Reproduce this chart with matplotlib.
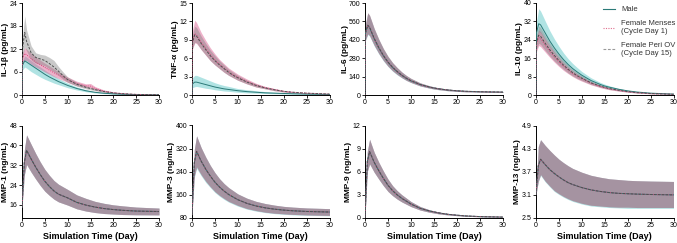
import matplotlib
matplotlib.use("Agg")
import matplotlib.pyplot as plt
from matplotlib.lines import Line2D

plt.rcParams['font.family'] = ['Liberation Sans', 'DejaVu Sans']

# ---------------- time grids ----------------
t_top = [0, 0.1, 0.6, 1, 2, 3, 4, 5, 6, 7, 8, 9, 10, 12, 14, 15, 16, 18, 20, 22, 25, 30]
t_bot = [0, 0.5, 1, 2, 3, 4, 5, 6, 7, 8, 10, 12, 14, 16, 18, 20, 22, 25, 30]

series_names = ["Male", "Female Menses\n(Cycle Day 1)", "Female Peri OV\n(Cycle Day 15)"]

# ---------------- IL-1beta ----------------
il1b_male_mean = [0, 7.8, 8.9, 8.6, 7.8, 7.0, 6.2, 5.4, 4.7, 4.1, 3.5, 3.0, 2.5, 1.7, 1.1, 0.9, 0.7, 0.45, 0.3, 0.2, 0.1, 0.05]
il1b_male_lo   = [0, 6.5, 7.3, 7.0, 6.1, 5.4, 4.7, 4.1, 3.6, 3.1, 2.7, 2.3, 1.9, 1.3, 0.85, 0.7, 0.55, 0.35, 0.22, 0.15, 0.07, 0.03]
il1b_male_hi   = [0, 9.0, 10.2, 9.9, 9.0, 8.1, 7.3, 6.5, 5.7, 5.0, 4.3, 3.7, 3.1, 2.1, 1.4, 1.15, 0.9, 0.6, 0.4, 0.26, 0.14, 0.07]
il1b_mens_mean = [0, 9.5, 10.8, 10.5, 9.5, 8.6, 7.9, 7.2, 6.5, 5.8, 5.2, 4.6, 4.0, 3.0, 2.4, 2.3, 1.7, 1.0, 0.6, 0.35, 0.15, 0.05]
il1b_mens_lo   = [0, 8.0, 9.0, 9.0, 8.0, 7.3, 6.7, 6.0, 5.4, 4.8, 4.3, 3.8, 3.3, 2.4, 1.9, 1.8, 1.3, 0.75, 0.45, 0.25, 0.1, 0.03]
il1b_mens_hi   = [0, 11.0, 12.4, 12.0, 10.9, 9.9, 9.1, 8.3, 7.6, 6.8, 6.1, 5.4, 4.7, 3.6, 2.9, 3.0, 2.2, 1.3, 0.8, 0.5, 0.2, 0.07]
il1b_ovul_mean = [0, 12.0, 16.3, 14.0, 11.0, 9.8, 9.4, 9.0, 8.2, 7.3, 6.2, 5.0, 4.0, 2.8, 2.0, 1.7, 1.4, 0.9, 0.55, 0.35, 0.15, 0.05]
il1b_ovul_lo   = [0, 9.5, 12.5, 11.5, 9.2, 8.3, 8.0, 7.6, 6.8, 6.0, 5.1, 4.1, 3.3, 2.3, 1.6, 1.35, 1.1, 0.7, 0.4, 0.25, 0.1, 0.03]
il1b_ovul_hi   = [0, 15.0, 20.6, 17.0, 12.8, 11.0, 10.6, 10.4, 9.8, 9.0, 7.4, 6.0, 4.7, 3.3, 2.4, 2.0, 1.7, 1.1, 0.7, 0.45, 0.2, 0.07]

# ---------------- TNF-alpha ----------------
tnf_male_mean = [0, 1.8, 2.1, 2.1, 1.9, 1.7, 1.5, 1.3, 1.15, 1.0, 0.9, 0.8, 0.7, 0.55, 0.45, 0.4, 0.35, 0.3, 0.25, 0.2, 0.15, 0.1]
tnf_male_lo   = [0, 1.2, 1.35, 1.4, 1.25, 1.1, 1.0, 0.85, 0.75, 0.65, 0.6, 0.52, 0.45, 0.35, 0.3, 0.27, 0.24, 0.2, 0.16, 0.13, 0.1, 0.06]
tnf_male_hi   = [0, 2.8, 3.2, 3.2, 2.9, 2.6, 2.3, 2.0, 1.75, 1.55, 1.4, 1.22, 1.05, 0.85, 0.7, 0.62, 0.55, 0.45, 0.38, 0.3, 0.22, 0.15]
tnf_mens_mean = [0, 8.8, 10.0, 9.8, 8.6, 7.6, 6.6, 5.7, 5.0, 4.4, 3.8, 3.3, 2.9, 2.2, 1.6, 1.4, 1.2, 0.9, 0.6, 0.45, 0.3, 0.15]
tnf_mens_lo   = [0, 7.5, 8.5, 8.4, 7.4, 6.5, 5.6, 4.9, 4.3, 3.7, 3.2, 2.8, 2.4, 1.8, 1.3, 1.15, 1.0, 0.7, 0.5, 0.35, 0.2, 0.1]
tnf_mens_hi   = [0, 10.5, 12.2, 11.8, 10.2, 8.9, 7.7, 6.7, 5.8, 5.1, 4.4, 3.9, 3.4, 2.6, 1.9, 1.65, 1.4, 1.05, 0.75, 0.55, 0.35, 0.2]
tnf_ovul_mean = [0, 8.6, 9.8, 9.6, 8.4, 7.4, 6.4, 5.6, 4.9, 4.3, 3.7, 3.2, 2.8, 2.1, 1.55, 1.35, 1.15, 0.85, 0.6, 0.45, 0.3, 0.15]
tnf_ovul_lo   = [0, 7.6, 8.6, 8.5, 7.4, 6.5, 5.6, 4.9, 4.3, 3.7, 3.2, 2.8, 2.4, 1.8, 1.3, 1.15, 1.0, 0.7, 0.5, 0.35, 0.2, 0.1]
tnf_ovul_hi   = [0, 9.8, 11.2, 11.0, 9.6, 8.4, 7.3, 6.4, 5.6, 4.9, 4.2, 3.7, 3.2, 2.4, 1.8, 1.55, 1.3, 1.0, 0.7, 0.5, 0.35, 0.2]

# ---------------- IL-6 ----------------
il6_male_mean = [0, 470, 528, 512, 428, 358, 298, 249, 209, 177, 149, 126, 107, 79, 60, 53, 47, 38, 32, 28, 25, 22]
il6_male_lo   = [0, 415, 460, 447, 373, 312, 259, 216, 181, 153, 130, 110, 94, 68, 52, 45, 40, 32, 27, 24, 21, 19]
il6_male_hi   = [0, 540, 622, 602, 503, 421, 350, 291, 244, 206, 174, 147, 125, 92, 70, 62, 55, 44, 37, 32, 28, 25]
il6_mens_mean = [0, 472, 530, 515, 430, 360, 300, 250, 210, 178, 150, 127, 108, 79, 60, 53, 47, 38, 32, 28, 25, 22]
il6_mens_lo   = [0, 420, 465, 452, 378, 316, 263, 219, 184, 156, 132, 111, 95, 69, 53, 46, 41, 33, 28, 24, 22, 19]
il6_mens_hi   = [0, 540, 625, 605, 505, 423, 352, 293, 246, 208, 175, 148, 126, 92, 70, 62, 55, 44, 37, 32, 28, 25]
il6_ovul_mean = [0, 472, 532, 516, 431, 361, 301, 251, 211, 179, 151, 128, 109, 80, 61, 53, 47, 38, 32, 28, 25, 22]
il6_ovul_lo   = [0, 420, 467, 453, 379, 317, 264, 220, 185, 157, 133, 112, 96, 70, 53, 46, 41, 33, 28, 24, 22, 19]
il6_ovul_hi   = [0, 540, 627, 607, 507, 425, 354, 295, 247, 209, 176, 149, 127, 93, 71, 62, 55, 44, 37, 32, 28, 25]

# ---------------- IL-10 ----------------
il10_male_mean = [0, 27, 31, 30.5, 27, 23.5, 20.5, 17.8, 15.4, 13.3, 11.5, 10.0, 8.6, 6.3, 4.6, 3.9, 3.4, 2.5, 1.8, 1.3, 0.8, 0.4]
il10_male_lo   = [0, 24, 27.5, 27.0, 24.0, 20.9, 18.2, 15.8, 13.7, 11.8, 10.2, 8.9, 7.6, 5.6, 4.1, 3.5, 3.0, 2.2, 1.6, 1.15, 0.7, 0.35]
il10_male_hi   = [0, 32, 37.5, 36.5, 32.2, 28.0, 24.4, 21.2, 18.3, 15.8, 13.7, 11.9, 10.2, 7.5, 5.5, 4.7, 4.0, 2.9, 2.1, 1.5, 0.95, 0.5]
il10_mens_mean = [0, 22, 25, 24.5, 21.7, 19.0, 16.6, 14.4, 12.5, 10.8, 9.3, 8.1, 7.0, 5.1, 3.7, 3.2, 2.7, 2.0, 1.4, 1.0, 0.6, 0.3]
il10_mens_lo   = [0, 19, 21.5, 21.0, 18.7, 16.4, 14.3, 12.4, 10.7, 9.3, 8.0, 6.9, 6.0, 4.4, 3.2, 2.7, 2.3, 1.7, 1.2, 0.85, 0.5, 0.25]
il10_mens_hi   = [0, 25, 28.2, 27.6, 24.4, 21.3, 18.6, 16.2, 14.0, 12.1, 10.5, 9.1, 7.9, 5.8, 4.2, 3.6, 3.1, 2.3, 1.6, 1.2, 0.7, 0.35]
il10_ovul_mean = [0, 23, 26, 25.5, 22.5, 19.7, 17.2, 15.0, 13.0, 11.2, 9.7, 8.4, 7.3, 5.3, 3.9, 3.3, 2.8, 2.1, 1.5, 1.05, 0.65, 0.3]
il10_ovul_lo   = [0, 20, 22.5, 22.0, 19.4, 17.0, 14.8, 12.9, 11.2, 9.6, 8.3, 7.2, 6.3, 4.6, 3.4, 2.9, 2.4, 1.8, 1.3, 0.9, 0.55, 0.25]
il10_ovul_hi   = [0, 26.5, 30, 29.4, 26.0, 22.7, 19.8, 17.3, 15.0, 12.9, 11.2, 9.7, 8.4, 6.1, 4.5, 3.8, 3.2, 2.4, 1.7, 1.2, 0.75, 0.35]

# ---------------- MMP-1 ----------------
mmp1_mean = [15, 33, 38, 34.5, 31.2, 28.2, 25.5, 23.4, 21.6, 20.3, 18.8, 17.0, 15.9, 15.1, 14.5, 14.1, 13.8, 13.5, 13.3]
mmp1_lo   = [15, 28, 32.3, 29.2, 26.4, 23.8, 21.5, 19.8, 18.3, 17.2, 15.9, 14.4, 13.5, 12.9, 12.5, 12.3, 12.1, 12.0, 11.95]
mmp1_hi   = [15, 38, 44.2, 40.4, 36.7, 33.3, 30.3, 27.9, 25.8, 24.3, 22.2, 20.0, 18.6, 17.4, 16.6, 16.0, 15.6, 15.1, 14.7]

# ---------------- MMP-3 ----------------
mmp3_mean = [90, 270, 310, 276, 248, 224, 203, 186, 172, 160, 142, 129, 120, 113.5, 109, 105.7, 103.4, 101, 99]
mmp3_lo   = [90, 224, 256, 229, 206, 187, 170, 157, 146, 136, 122, 111, 104, 98.5, 95, 92.7, 90.7, 89, 87.2]
mmp3_hi   = [90, 316, 364, 323, 290, 261, 236, 215, 198, 184, 162, 147, 136, 128.5, 123, 118.7, 116.1, 113.2, 110.8]
mmp3_male_lo = [90, 219, 251, 225, 202, 184, 167, 154, 143, 133.5, 119.5, 109, 102, 97, 93.5, 91.2, 89.2, 87.6, 86]

# ---------------- MMP-9 ----------------
mmp9_mean = [0, 7.3, 8.6, 7.2, 6.1, 5.1, 4.2, 3.5, 2.95, 2.5, 1.75, 1.2, 0.85, 0.6, 0.42, 0.3, 0.2, 0.12, 0.05]
mmp9_lo   = [0, 6.0, 7.0, 5.9, 5.0, 4.15, 3.4, 2.85, 2.4, 2.03, 1.42, 0.97, 0.69, 0.48, 0.34, 0.24, 0.16, 0.09, 0.04]
mmp9_hi   = [0, 8.6, 10.2, 8.5, 7.2, 6.05, 5.0, 4.15, 3.5, 2.97, 2.08, 1.43, 1.01, 0.72, 0.5, 0.36, 0.24, 0.15, 0.06]

# ---------------- MMP-13 ----------------
mmp13_mean = [3.1, 3.85, 4.02, 3.88, 3.75, 3.65, 3.56, 3.48, 3.41, 3.36, 3.28, 3.22, 3.18, 3.15, 3.13, 3.12, 3.11, 3.10, 3.09]
mmp13_lo   = [3.1, 3.45, 3.62, 3.45, 3.32, 3.2, 3.12, 3.05, 2.99, 2.94, 2.87, 2.82, 2.8, 2.78, 2.77, 2.77, 2.76, 2.76, 2.76]
mmp13_hi   = [3.1, 4.35, 4.53, 4.38, 4.25, 4.13, 4.02, 3.93, 3.85, 3.78, 3.68, 3.6, 3.55, 3.51, 3.49, 3.47, 3.46, 3.45, 3.44]
mmp13_male_lo = [3.1, 3.43, 3.6, 3.43, 3.3, 3.18, 3.1, 3.03, 2.97, 2.92, 2.85, 2.8, 2.78, 2.76, 2.75, 2.74, 2.74, 2.74, 2.74]

# ---------------- axis settings ----------------
ylabels = ["IL-1β (pg/mL)", "TNF-α (pg/mL)", "IL-6 (pg/mL)", "IL-10 (pg/mL)",
           "MMP-1 (ng/mL)", "MMP-3 (ng/mL)", "MMP-9 (ng/mL)", "MMP-13 (ng/mL)"]
yticks = [[0, 6, 12, 18, 24], [0, 3, 6, 9, 12, 15], [0, 140, 280, 420, 560, 700], [0, 8, 16, 24, 32, 40],
          [16, 24, 32, 40, 48], [80, 160, 240, 320, 400], [0, 3, 6, 9, 12], [2.5, 3.1, 3.7, 4.3, 4.9]]
ylims = [(0, 24), (0, 15), (0, 700), (0, 40), (10.9, 48), (80, 400), (0, 12), (2.5, 4.9)]
xticks = [0, 5, 10, 15, 20, 25, 30]

panels = [
    (t_top, [(il1b_male_mean, il1b_male_lo, il1b_male_hi), (il1b_mens_mean, il1b_mens_lo, il1b_mens_hi), (il1b_ovul_mean, il1b_ovul_lo, il1b_ovul_hi)]),
    (t_top, [(tnf_male_mean, tnf_male_lo, tnf_male_hi), (tnf_mens_mean, tnf_mens_lo, tnf_mens_hi), (tnf_ovul_mean, tnf_ovul_lo, tnf_ovul_hi)]),
    (t_top, [(il6_male_mean, il6_male_lo, il6_male_hi), (il6_mens_mean, il6_mens_lo, il6_mens_hi), (il6_ovul_mean, il6_ovul_lo, il6_ovul_hi)]),
    (t_top, [(il10_male_mean, il10_male_lo, il10_male_hi), (il10_mens_mean, il10_mens_lo, il10_mens_hi), (il10_ovul_mean, il10_ovul_lo, il10_ovul_hi)]),
    (t_bot, [(mmp1_mean, mmp1_lo, mmp1_hi), (mmp1_mean, mmp1_lo, mmp1_hi), (mmp1_mean, mmp1_lo, mmp1_hi)]),
    (t_bot, [(mmp3_mean, mmp3_male_lo, mmp3_hi), (mmp3_mean, mmp3_lo, mmp3_hi), (mmp3_mean, mmp3_lo, mmp3_hi)]),
    (t_bot, [(mmp9_mean, mmp9_lo, mmp9_hi), (mmp9_mean, mmp9_lo, mmp9_hi), (mmp9_mean, mmp9_lo, mmp9_hi)]),
    (t_bot, [(mmp13_mean, mmp13_male_lo, mmp13_hi), (mmp13_mean, mmp13_lo, mmp13_hi), (mmp13_mean, mmp13_lo, mmp13_hi)]),
]

band_colors = ['#8fd8d8', '#d9558a', '#7f7f7f']
band_alphas = [0.7, 0.45, 0.42]
line_colors = ['#2b7a78', '#d8457c', '#505050']
legend_colors = ['#2b7a78', '#e0708f', '#9a9a9a']
line_styles = ['-', (0, (1, 1.2)), (0, (2.5, 1.5))]

W, H = 677, 243
fig = plt.figure(figsize=(W / 100, H / 100), dpi=100)

col_x = [22, 192, 365, 536]
col_w = [137, 137.5, 138, 137.5]
row_top = [(3, 95), (125.5, 217.5)]

axes = []
for i, (tt, ser) in enumerate(panels):
    r, c = divmod(i, 4)
    top, bot = row_top[r]
    ax = fig.add_axes([col_x[c] / W, 1 - bot / H, col_w[c] / W, (bot - top) / H])
    axes.append(ax)
    for k, (m, lo, hi) in enumerate(ser):
        ax.fill_between(tt, lo, hi, color=band_colors[k], alpha=band_alphas[k], lw=0, zorder=1 + k)
    for k, (m, lo, hi) in enumerate(ser):
        ax.plot(tt, m, color=line_colors[k], ls=line_styles[k], lw=0.7, zorder=5 + k)
    ax.set_xlim(0, 30)
    ax.set_ylim(*ylims[i])
    ax.set_yticks(yticks[i])
    ax.set_yticklabels([f"{v:g}" for v in yticks[i]])
    ax.set_xticks(xticks)
    for s in ['top', 'right']:
        ax.spines[s].set_visible(False)
    for s in ['left', 'bottom']:
        ax.spines[s].set_linewidth(0.7)
    ax.tick_params(axis='both', length=2, width=0.6, labelsize=5, pad=1.2)
    ax.set_ylabel(ylabels[i], fontsize=6, fontweight='bold', labelpad=0.2)
    if r == 1:
        ax.set_xlabel("Simulation Time (Day)", fontsize=6.5, fontweight='bold', labelpad=2)

handles = [Line2D([], [], color=legend_colors[k], ls=line_styles[k], lw=0.8) for k in range(3)]
leg = axes[3].legend(handles, series_names, loc='upper right', bbox_to_anchor=(1.035, 1.0), frameon=False,
                     fontsize=5.5, handlelength=1.6, handletextpad=0.8, labelspacing=0.9, borderaxespad=0)
for txt in leg.get_texts():
    txt.set_color('#333333')

fig.savefig("out.png", dpi=100)
